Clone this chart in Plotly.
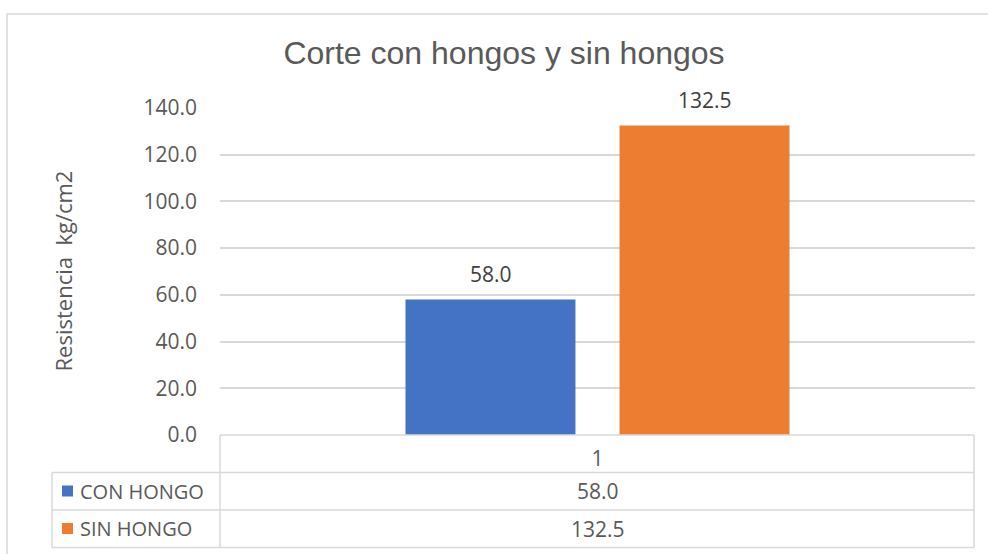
# Corte con hongos y sin hongos - Excel-style column chart with data table

import plotly.graph_objects as go

# Data
categories = ["1"]
series_names = ["CON HONGO", "SIN HONGO"]
series_values = [[58.0], [132.5]]
series_colors = ["#4472C4", "#ED7D31"]
y_ticks = [0, 20, 40, 60, 80, 100, 120, 140]

text_color = "#595959"
grid_color = "#D9D9D9"
body_font = "Open Sans"

# plot area in pixels (used to place the table around it)
W, H = 988, 554
L, R, T, B = 220, 975, 108, 435
bar_slot = 214  # px between the two bar centres


def px_x(x):
    return (x - L) / (R - L)


def px_y(y):
    return (B - y) / (B - T)


fig = go.Figure()
annotations = []
for i, (name, vals, color) in enumerate(zip(series_names, series_values, series_colors)):
    fig.add_trace(go.Bar(
        x=categories, y=vals, name=name,
        marker=dict(color=color, line=dict(width=0)),
    ))
    # data labels above the bars, Excel sits them a little higher than plotly does
    # (annotations on a category axis take the category index)
    for j, v in enumerate(vals):
        annotations.append(dict(x=j, y=v, text=f"{v:.1f}", showarrow=False,
                                xanchor="center", yanchor="bottom",
                                xshift=(i - 0.5) * bar_slot, yshift=10,
                                font=dict(family=body_font, size=21, color="#404040")))

shapes = []

# outer chart border
shapes.append(dict(type="rect", xref="paper", yref="paper",
                   x0=px_x(7), x1=px_x(W + 5), y0=px_y(H + 5), y1=px_y(14),
                   line=dict(color=grid_color, width=1.5), layer="below"))

# data table lines
row_lines = [435, 472.5, 510, 547.5]
for i, yl in enumerate(row_lines):
    x0 = L if i == 0 else 52
    shapes.append(dict(type="line", xref="paper", yref="paper",
                       x0=px_x(x0), x1=px_x(974), y0=px_y(yl), y1=px_y(yl),
                       line=dict(color=grid_color, width=1.5)))
shapes.append(dict(type="line", xref="paper", yref="paper",
                   x0=px_x(L), x1=px_x(L), y0=px_y(435), y1=px_y(547.5),
                   line=dict(color=grid_color, width=1.5)))
shapes.append(dict(type="line", xref="paper", yref="paper",
                   x0=px_x(974), x1=px_x(974), y0=px_y(435), y1=px_y(547.5),
                   line=dict(color=grid_color, width=1.5)))
shapes.append(dict(type="line", xref="paper", yref="paper",
                   x0=px_x(52), x1=px_x(52), y0=px_y(472.5), y1=px_y(547.5),
                   line=dict(color=grid_color, width=1.5)))

# table rows: legend key + values
for i, (name, vals, color) in enumerate(zip(series_names, series_values, series_colors)):
    yc = 491 + i * 37.5
    shapes.append(dict(type="rect", xref="paper", yref="paper",
                       x0=px_x(62), x1=px_x(73), y0=px_y(yc + 5.5), y1=px_y(yc - 5.5),
                       fillcolor=color, line=dict(width=0)))
    annotations.append(dict(xref="paper", yref="paper", x=px_x(78), y=px_y(yc),
                            text=name, showarrow=False, xanchor="left", yanchor="middle",
                            font=dict(family=body_font, size=20, color=text_color)))
    annotations.append(dict(xref="paper", yref="paper", x=0.5, y=px_y(yc),
                            text=f"{vals[0]:.1f}", showarrow=False, xanchor="center",
                            yanchor="middle",
                            font=dict(family=body_font, size=21, color=text_color)))

# y axis title
annotations.append(dict(xref="paper", yref="paper", x=px_x(62), y=0.5,
                        text="Resistencia  kg/cm2", textangle=-90, showarrow=False,
                        xanchor="center", yanchor="middle",
                        font=dict(family=body_font, size=22, color=text_color)))

fig.update_layout(
    width=W, height=H,
    margin=dict(l=L, r=W - R, t=T, b=H - B),
    paper_bgcolor="white", plot_bgcolor="white",
    title=dict(text="Corte con hongos y sin hongos", xref="container", x=504 / W,
               y=1 - 53 / H, xanchor="center", yanchor="middle",
               font=dict(family="Liberation Sans", size=32, color=text_color)),
    barmode="group", bargap=0.433, bargroupgap=0.206,
    showlegend=False,
    shapes=shapes, annotations=annotations,
    xaxis=dict(type="category", range=[-0.5, len(categories) - 0.5],
               showgrid=False, showline=False, zeroline=False,
               ticks="", ticklabelstandoff=9,
               tickfont=dict(family=body_font, size=21, color=text_color)),
    yaxis=dict(range=[0, 140], tickvals=y_ticks, ticktext=[f"{v:.1f}" for v in y_ticks],
               showgrid=True, gridcolor=grid_color, gridwidth=1.5,
               zeroline=False, showline=False, ticks="", ticklabelstandoff=22,
               tickfont=dict(family=body_font, size=21, color=text_color)),
)

# drop the default page margin so the figure sits at the window's top-left corner
fig.write_html("out.html", config={"displayModeBar": False},
               post_script="document.body.style.margin='0';")
